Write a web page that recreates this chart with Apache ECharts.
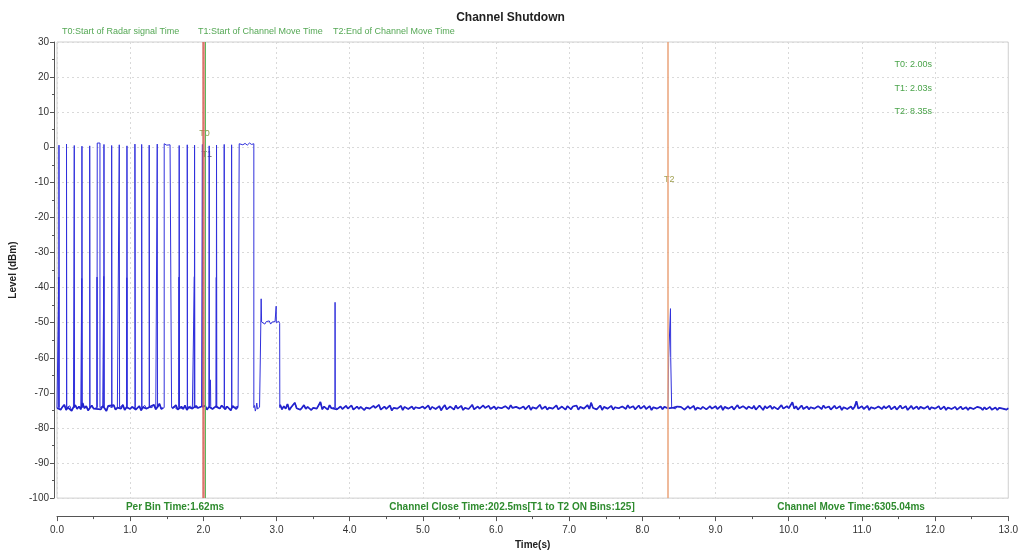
<!DOCTYPE html>
<html>
<head>
<meta charset="utf-8">
<title>Channel Shutdown</title>
<script src="https://cdn.jsdelivr.net/npm/echarts@6/dist/echarts.min.js"></script>
<style>
  html, body { margin: 0; padding: 0; background: #fff; }
  #chart { width: 1021px; height: 555px; }
</style>
</head>
<body>
<div id="chart"></div>
<script>
// ---- Measured trace: noise floor sampled every 25 ms from 0 s to 13 s (dBm) ----
const FLOOR_STEP = 0.025;
const floorDb = [
  -74.3,-73.6,-74.8,-74.0,-73.4,-74.9,-74.2,-73.7,-75.1,-74.1,-73.5,-74.6,-73.9,-74.7,-72.9,-74.4,-73.8,-75.0,-74.2,-73.6,-74.5,-74.9,-73.3,-74.1,-74.7,-73.8,-74.4,-75.2,-73.7,-74.0,-74.6,-73.5,-74.8,-74.2,-73.9,-74.5,-73.4,-74.9,-74.1,-73.7,
  -74.6,-74.0,-73.5,-74.8,-74.3,-73.8,-75.0,-74.1,-73.6,-74.5,-74.9,-73.9,-74.2,-73.4,-74.7,-74.0,-73.1,-74.6,-74.3,-73.8,-75.1,-74.2,-73.7,-74.5,-74.0,-73.5,-74.8,-74.4,-73.9,-74.6,-73.6,-74.9,-74.1,-73.8,-74.5,-75.0,-73.7,-74.3,-74.7,-73.9,
  -74.2,-73.7,-74.8,-74.0,-73.5,-74.6,-74.9,-73.8,-74.3,-74.5,-73.6,-74.1,-74.7,-73.9,-74.4,-75.0,-73.7,-74.2,-74.6,-73.8,-74.0,-74.5,-73.6,-74.8,-74.1,-73.9,-74.4,-74.7,-74.0,-74.0,-74.0,-74.0,-74.0,-74.0,-74.0,-74.0,-74.0,-74.0,-74.0,-74.0,
  -74.0,-74.0,-73.4,-74.7,-73.8,-74.5,-73.2,-74.9,-74.1,-73.6,-72.8,-74.4,-73.9,-74.8,-74.2,-73.5,-74.6,-74.0,-73.7,-74.9,-74.3,-73.8,-74.5,-74.1,-72.6,-74.7,-73.9,-74.2,-74.8,-73.5,-74.4,-74.0,-73.6,-74.7,-74.2,-73.9,-74.6,-74.3,-73.7,-74.5,
  -74.1,-73.6,-74.8,-74.3,-73.9,-74.6,-74.0,-73.5,-74.9,-74.2,-73.8,-74.5,-74.7,-73.7,-74.3,-74.0,-73.4,-74.8,-74.4,-73.9,-74.6,-74.1,-73.6,-75.0,-74.3,-73.8,-74.5,-74.2,-73.7,-74.9,-74.0,-73.5,-74.6,-74.3,-73.9,-74.7,-74.1,-73.6,-74.4,-74.8,
  -73.9,-74.5,-74.2,-73.6,-74.8,-74.0,-73.7,-74.6,-74.3,-73.8,-75.0,-74.1,-73.5,-74.7,-74.4,-73.9,-74.2,-74.8,-73.6,-74.5,-74.0,-73.7,-74.9,-74.3,-73.8,-74.6,-74.1,-73.4,-74.7,-74.2,-73.9,-74.5,-74.8,-73.6,-74.3,-74.0,-73.7,-74.6,-74.4,-73.9,
  -74.7,-74.1,-73.6,-74.4,-74.9,-73.8,-74.2,-74.6,-73.5,-74.3,-74.8,-74.0,-73.7,-74.5,-74.2,-73.9,-74.7,-74.3,-73.6,-74.9,-74.1,-73.8,-74.5,-74.0,-73.4,-74.6,-74.3,-73.9,-74.8,-74.2,-73.7,-74.5,-74.1,-73.6,-74.7,-74.4,-73.9,-74.2,-74.8,-73.8,
  -74.3,-74.7,-73.9,-74.2,-73.6,-74.8,-74.0,-73.7,-74.5,-74.1,-73.5,-74.6,-72.8,-74.3,-73.9,-74.7,-74.2,-73.6,-74.9,-74.0,-73.8,-74.5,-74.3,-73.7,-74.8,-74.1,-73.6,-74.4,-74.9,-73.9,-74.2,-74.6,-73.5,-74.3,-74.0,-73.8,-74.7,-74.2,-73.6,-74.5,
  -74.0,-73.7,-74.6,-74.2,-73.8,-74.9,-74.1,-73.6,-74.5,-74.3,-73.9,-74.7,-74.0,-73.5,-74.4,-74.8,-73.7,-74.2,-74.6,-73.9,-74.3,-74.0,-73.6,-74.8,-74.4,-73.8,-74.5,-74.1,-73.7,-74.9,-74.2,-73.9,-74.6,-74.0,-73.5,-74.7,-74.3,-73.8,-74.5,-74.1,
  -73.8,-74.6,-74.2,-73.7,-74.9,-74.0,-73.6,-74.5,-74.3,-73.9,-74.8,-74.1,-73.5,-74.4,-74.7,-73.8,-74.2,-74.6,-73.9,-74.0,-74.5,-73.7,-74.8,-74.3,-73.6,-74.1,-74.9,-73.8,-74.4,-74.2,-73.7,-74.6,-74.0,-73.9,-74.7,-74.3,-73.5,-74.5,-74.1,-73.8,
  -74.4,-74.0,-72.7,-74.5,-73.8,-74.8,-74.2,-73.6,-74.6,-74.3,-73.9,-74.7,-74.1,-73.7,-74.5,-74.9,-73.8,-74.2,-74.6,-73.6,-74.3,-74.0,-73.9,-74.8,-74.4,-73.7,-74.5,-74.2,-73.8,-74.9,-74.1,-73.6,-74.6,-74.3,-73.9,-74.7,-74.0,-72.4,-74.5,-74.2,
  -73.8,-74.6,-74.3,-73.7,-74.9,-74.1,-73.6,-74.5,-74.8,-73.9,-74.2,-74.6,-73.8,-74.4,-74.0,-73.7,-74.7,-74.3,-73.9,-74.8,-74.2,-73.6,-74.5,-74.1,-73.8,-74.9,-74.4,-73.7,-74.6,-74.2,-73.9,-74.7,-74.0,-73.6,-74.5,-74.3,-73.8,-74.8,-74.1,-73.9,
  -74.5,-74.1,-73.8,-74.7,-74.3,-73.9,-74.9,-74.2,-73.8,-74.6,-74.4,-74.0,-74.8,-74.3,-73.9,-74.7,-74.5,-74.1,-74.9,-74.2,-73.9,-74.6,-74.8,-74.0,-74.5,-74.3,-74.9,-74.1,-74.7,-74.4,-74.0,-74.8,-74.6,-74.2,-74.9,-74.3,-74.7,-74.5,-74.1,-74.8,
  -74.4
];
const PULSE_BASE_DB = -74.2;

// Radar pulses: on / off times (s) and top level (dBm)
const pulseOn  = [0.027,0.130,0.236,0.341,0.447,0.550,0.642,0.747,0.851,0.956,1.065,1.157,1.260,1.370,1.465,1.670,1.780,1.880,1.987,2.080,2.180,2.285,2.386,2.490];
const pulseOff = [0.031,0.134,0.240,0.345,0.451,0.587,0.646,0.751,0.855,0.960,1.071,1.161,1.264,1.374,1.566,1.674,1.784,1.884,1.991,2.084,2.184,2.289,2.390,2.690];
const pulseTop = [0.6,0.9,0.5,0.3,0.4,1.2,0.8,0.5,0.7,0.4,0.9,0.8,0.6,0.9,1.0,0.5,0.7,0.6,0.8,0.4,0.6,0.8,0.7,1.0];

// Partial-bin leading edges seen on some pulses
const shoulderAt = [0.027,0.341,0.550,0.642,0.956,1.670,1.880,2.180];
const shoulderDb = [-37.0,-37.4,-37.0,-36.8,-37.2,-37.0,-36.9,-37.1];

// Ripple on the tops of the wide pulses
const blockRipple = [
  [0.560,1.4],[0.575,0.7],
  [1.480,1.2],[1.500,0.6],[1.520,1.1],[1.545,0.7],
  [2.510,1.3],[2.540,0.7],[2.570,1.1],[2.600,0.6],[2.630,1.2],[2.660,0.8]
];

// Channel move burst after the last radar pulse
const moveBurst = [
  [2.700,-73.6],[2.710,-75.2],[2.720,-74.5],[2.730,-72.9],[2.740,-74.6],[2.755,-75.0],[2.768,-74.1],
  [2.777,-74.3],[2.779,-59.5],[2.790,-43.2],[2.796,-49.8],[2.805,-50.3],[2.820,-49.6],[2.840,-50.4],
  [2.860,-49.7],[2.880,-50.2],[2.900,-49.5],[2.920,-50.4],[2.940,-49.8],[2.960,-50.3],[2.980,-49.7],
  [2.993,-50.1],[2.995,-45.3],[2.997,-50.0],[3.010,-50.4],[3.030,-49.6],[3.043,-50.2],[3.045,-74.2]
];

// Isolated spikes
const spikeAfterT1 = [[2.096,-74.0],[2.097,-66.3],[2.099,-69.5],[2.101,-74.0]];
const spikeAt3s8   = [[3.798,-74.1],[3.800,-44.2],[3.803,-74.0]];
const spikeAtT2    = [[8.358,-74.0],[8.359,-60.0],[8.366,-59.7],[8.378,-60.2],[8.384,-46.0],[8.387,-60.0],[8.396,-59.8],[8.400,-74.1]];

// Time markers
const markerNames = ['T0', 'T1', 'T2'];
const markerTimes = [2.00, 2.03, 8.35];
const markerDesc  = ['Start of Radar signal Time', 'Start of Channel Move Time', 'End of Channel Move Time'];

const perBinMs = 1.62;
const closeTimeMs = 202.5;
const onBins = 125;
const moveTimeMs = 6305.04;

// ---- Assemble the trace ----
const events = [];
const busy = [];
pulseOn.forEach((on, i) => {
  const off = pulseOff[i];
  const k = shoulderAt.indexOf(on);
  if (k >= 0) {
    const ts = +(on - 0.003).toFixed(4);
    events.push([ts, PULSE_BASE_DB], [ts, shoulderDb[k]], [ts, PULSE_BASE_DB]);
  }
  events.push([on, PULSE_BASE_DB], [on, pulseTop[i]]);
  blockRipple.filter(p => p[0] > on && p[0] < off).forEach(p => events.push(p));
  events.push([off, pulseTop[i]], [off, PULSE_BASE_DB]);
  busy.push([on - 0.004, off]);
});
[moveBurst, spikeAfterT1, spikeAt3s8, spikeAtT2].forEach(g => {
  g.forEach(p => events.push(p));
  busy.push([g[0][0], g[g.length - 1][0]]);
});
const floorPts = [];
const floorBand = [];   // floor samples only, broken across long busy spans
floorDb.forEach((v, i) => {
  const t = +(i * FLOOR_STEP).toFixed(3);
  const span = busy.find(([a, b]) => t >= a && t <= b);
  if (!span) {
    floorPts.push([t, v]);
    floorBand.push([t, v]);
  } else if (span[1] - span[0] > 0.05) {
    floorBand.push([t, null]);
  }
});
const trace = floorPts.concat(events).sort((a, b) => a[0] - b[0]);

// ---- Chart ----
const FONT = "'Liberation Sans Narrow', 'Liberation Sans', Arial, sans-serif";
const GREEN = '#3f9f3f';
const markerColors = ['rgba(214,98,88,0.85)', '#5cb85c', '#eaa37a'];
const markerWidths = [2.5, 1, 1.5];

const chart = echarts.init(document.getElementById('chart'), null, { renderer: 'canvas' });

chart.setOption({
  animation: false,
  backgroundColor: '#ffffff',
  title: {
    text: 'Channel Shutdown',
    left: 'center',
    top: 7,
    textStyle: { fontSize: 12, fontWeight: 'bold', color: '#222', fontFamily: 'Liberation Sans, Arial, sans-serif' }
  },
  grid: {
    left: 57, right: 12, top: 42, bottom: 55,
    show: true, borderColor: '#cfcfcf', borderWidth: 1, backgroundColor: 'transparent'
  },
  xAxis: {
    type: 'value', min: 0, max: 13, interval: 1, offset: 18,
    axisLine: { show: true, onZero: false, lineStyle: { color: '#555', width: 1 } },
    axisTick: { show: true, length: 5, lineStyle: { color: '#555' } },
    minorTick: { show: true, splitNumber: 2, length: 3, lineStyle: { color: '#555' } },
    axisLabel: { formatter: v => v.toFixed(1), color: '#333', fontSize: 10, margin: 9, fontFamily: FONT },
    splitLine: { show: true, lineStyle: { color: '#d9d9d9', type: [2, 3] } },
    name: 'Time(s)', nameLocation: 'middle', nameGap: 23,
    nameTextStyle: { fontWeight: 'bold', fontSize: 10, color: '#222', fontFamily: 'Liberation Sans, Arial, sans-serif' }
  },
  yAxis: {
    type: 'value', min: -100, max: 30, interval: 10, offset: 3,
    axisLine: { show: true, onZero: false, lineStyle: { color: '#555', width: 1 } },
    axisTick: { show: true, length: 4, lineStyle: { color: '#555' } },
    minorTick: { show: true, splitNumber: 2, length: 2, lineStyle: { color: '#555' } },
    axisLabel: { color: '#333', fontSize: 10, margin: 5, fontFamily: FONT },
    splitLine: { show: true, lineStyle: { color: '#d9d9d9', type: [2, 3] } },
    name: 'Level (dBm)', nameLocation: 'middle', nameGap: 32,
    nameTextStyle: { fontWeight: 'bold', fontSize: 10, color: '#222', fontFamily: 'Liberation Sans, Arial, sans-serif' }
  },
  series: [
    {
      type: 'line',
      data: trace,
      showSymbol: false,
      symbol: 'none',
      lineStyle: { color: '#3030dc', width: 1 },
      z: 2
    },
    {
      // denser rendering of the noise floor band
      type: 'line',
      data: floorBand,
      showSymbol: false,
      symbol: 'none',
      connectNulls: false,
      lineStyle: { color: '#2222cc', width: 1.7 },
      z: 2
    },
    {
      type: 'line',
      data: [],
      z: 4,
      markLine: {
        silent: true,
        symbol: 'none',
        animation: false,
        label: { show: false },
        data: markerTimes.map((t, i) => ({
          xAxis: t,
          lineStyle: { color: markerColors[i], width: markerWidths[i], type: 'solid' }
        }))
      }
    }
  ]
});

// ---- Annotations ----
const textEl = (x, y, text, style) => ({
  type: 'text', x, y, silent: true,
  style: Object.assign({ text, fontFamily: FONT, fontSize: 9, fill: GREEN, textVerticalAlign: 'middle' }, style || {})
});

const gfx = [];
// meaning of each marker across the top
const topX = [62, 198, 333];
markerNames.forEach((n, i) => gfx.push(textEl(topX[i], 32, `${n}:${markerDesc[i]}`, { fill: '#55a855' })));
// marker values on the right
markerNames.forEach((n, i) => gfx.push(textEl(932, 65 + i * 23.5, `${n}: ${markerTimes[i].toFixed(2)}s`, { textAlign: 'right', fill: '#4aa44a' })));
// tags beside the marker lines
const tagY = [134, 155, 180];
const tagColor = ['#8c9c4a', '#555', '#a0a050'];
markerNames.forEach((n, i) => {
  const px = chart.convertToPixel({ xAxisIndex: 0 }, markerTimes[i]);
  gfx.push(textEl(px - 4, tagY[i], n, { fill: tagColor[i] }));
});
// summary along the bottom of the plot
const bottomStyle = { fontSize: 10, fill: '#2e8b2e', fontWeight: 'bold', textAlign: 'center' };
gfx.push(textEl(175, 507, `Per Bin Time:${perBinMs.toFixed(2)}ms`, bottomStyle));
gfx.push(textEl(512, 507, `Channel Close Time:${closeTimeMs}ms[T1 to T2 ON Bins:${onBins}]`, bottomStyle));
gfx.push(textEl(851, 507, `Channel Move Time:${moveTimeMs.toFixed(2)}ms`, bottomStyle));

chart.setOption({ graphic: { elements: gfx } });
</script>
</body>
</html>
